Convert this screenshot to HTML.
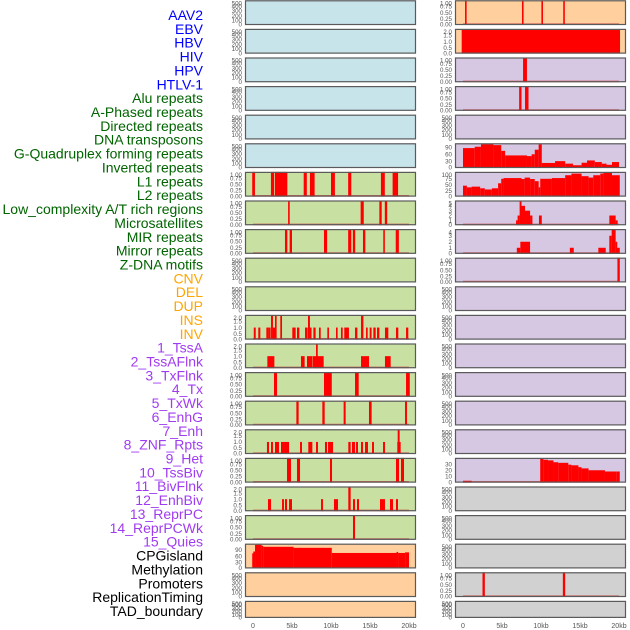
<!DOCTYPE html>
<html><head><meta charset="utf-8">
<style>
html,body{margin:0;padding:0;background:#fff;}
svg{display:block;font-family:"Liberation Sans",sans-serif;}
</style></head>
<body>
<svg id="chart" width="630" height="630" viewBox="0 0 630 630"></svg>
<script>
// ---- labels ----
const trackLabels = ["AAV2","EBV","HBV","HIV","HPV","HTLV-1","Alu repeats","A-Phased repeats","Directed repeats","DNA transposons","G-Quadruplex forming repeats","Inverted repeats","L1 repeats","L2 repeats","Low_complexity A/T rich regions","Microsatellites","MIR repeats","Mirror repeats","Z-DNA motifs","CNV","DEL","DUP","INS","INV","1_TssA","2_TssAFlnk","3_TxFlnk","4_Tx","5_TxWk","6_EnhG","7_Enh","8_ZNF_Rpts","9_Het","10_TssBiv","11_BivFlnk","12_EnhBiv","13_ReprPC","14_ReprPCWk","15_Quies","CPGisland","Methylation","Promoters","ReplicationTiming","TAD_boundary"];
const labelGroups = [6,13,5,15,5];
const xTickValues = [0,5,10,15,20];
const xTickLabels = ["0","5kb","10kb","15kb","20kb"];
const emptyTicks = [0,100,200,300,400,500];
const unitTicks = [0,0.25,0.5,0.75,1.0];
const unitTickLabels = ["0.00","0.25","0.50","0.75","1.00"];
const twoTicks = [0,0.5,1.0,1.5,2.0];
const twoTickLabels = ["0.0","0.5","1.0","1.5","2.0"];

// ---- column 1 data [startKb, endKb, value] ----
const l1Col1 = [[-0.1,0.25,1],[2.3,2.7,1],[2.8,4.4,1],[6.5,6.9,1],[7.3,7.9,1],[10.0,10.5,1],[12.2,12.6,1],[16.4,16.9,1],[17.9,18.6,1]];
const l2Col1 = [[4.5,4.7,1],[13.8,14.2,1],[16.2,16.5,1],[16.9,17.2,1]];
const lowCol1 = [[4.1,4.4,1],[4.7,5.0,1],[9.1,9.5,1],[12.2,12.6,1],[12.8,13.1,1],[14.1,14.4,1],[16.7,16.9,1],[18.3,18.7,1]];
const insCol1 = [[0.1,0.35,1],[0.68,0.94,1],[1.71,1.97,1],[1.97,2.26,1],[2.31,2.56,2],[2.56,2.82,1],[2.82,3.03,2],[3.5,3.72,2],[5.04,5.47,1],[5.64,5.94,1],[6.67,7.0,1],[7.05,7.3,2],[7.3,7.44,1],[7.74,8.03,1],[8.46,8.68,1],[9.53,9.74,1],[10.64,10.85,1],[11.28,11.5,1],[11.7,12.3,1],[13.08,13.38,1],[13.85,14.15,2],[14.49,14.7,1],[14.96,15.2,1],[15.43,15.73,1],[15.9,16.2,1],[16.92,17.35,1],[18.33,18.63,1],[19.62,19.91,1]];
const invCol1 = [[1.84,2.74,1],[6.15,6.62,1],[6.92,7.6,1],[7.65,9.06,1],[8.08,8.3,2],[13.85,14.87,1],[16.92,17.65,1]];
const tssACol1 = [[2.69,3.08,1],[9.1,10.1,1],[13.08,13.55,1],[19.62,20.1,1]];
const tssAFlnkCol1 = [[5.56,5.85,1],[8.89,9.19,1],[11.62,11.88,1],[14.87,15.21,1],[19.49,19.74,1]];
const txFlnkCol1 = [[1.79,2.05,1],[2.31,2.56,1],[2.82,3.33,1],[3.59,4.1,1],[4.1,4.62,1],[6.03,6.28,1],[7.09,7.61,1],[8.08,8.33,1],[9.23,9.49,1],[9.62,10.26,1],[12.22,12.52,1],[12.69,13.08,1],[13.21,13.46,1],[13.85,14.1,1],[14.36,14.74,1],[15.26,15.51,1],[16.67,16.92,1],[18.5,18.93,1],[18.55,18.8,2]];
const txCol1 = [[4.36,4.87,1],[5.64,6.03,1],[9.87,10.13,1],[18.33,18.72,1],[18.97,19.36,1]];
const txWkCol1 = [[1.92,2.31,1],[3.72,3.97,1],[4.1,4.36,1],[4.62,5.0,1],[8.72,8.97,1],[10.38,10.9,1],[12.22,12.52,2],[12.82,13.08,1],[13.33,13.59,1],[16.28,16.92,1],[17.56,17.95,1],[18.33,18.59,1]];
const enhGCol1 = [[12.82,13.08,1]];
const cpgCol1 = [[-0.1,0.04,73],[0.04,0.26,82],[0.26,1.1,115],[1.1,1.3,110],[1.3,5.2,105],[5.2,10.1,100],[10.1,18.4,75],[18.4,18.6,80],[18.6,19.5,75],[19.5,20.0,78]];

// ---- column 2 data ----
const aavCol2 = [[0.26,0.4,1],[7.56,7.7,1],[10.05,10.2,1],[12.85,13.04,1]];
const ebvCol2 = [[-0.17,20.13,2]];
const hbvCol2 = [[7.7,8.2,1]];
const hivCol2 = [[7.2,7.5,1],[7.95,8.4,1]];
const gquadCol2 = [[0,1.5,87],[1.5,2.3,93],[2.3,3.9,104],[3.9,4.9,100],[4.9,5.4,75],[5.4,8.2,55],[8.2,8.8,52],[8.8,9.2,60],[9.2,9.7,80],[9.7,10.1,103],[10.1,11.8,22],[11.8,13.1,30],[13.1,14.1,19],[14.1,15.2,12],[15.2,15.9,23],[15.9,16.9,33],[16.9,17.8,26],[17.8,18.4,19],[18.4,19.1,14],[19.1,20,26]];
const invertedCol2 = [[0,0.5,46],[0.5,1.1,39],[1.1,2.2,42],[2.2,2.8,35],[2.8,3.7,30],[3.7,4.5,35],[4.5,4.9,56],[4.9,5.2,75],[5.2,7.5,78],[7.5,7.9,74],[7.9,8.6,80],[8.6,9.2,74],[9.2,9.7,65],[9.7,9.9,39],[9.9,11.4,75],[11.4,13.1,78],[13.1,13.9,90],[13.9,15.2,97],[15.2,16.1,86],[16.1,16.7,80],[16.7,17.6,90],[17.6,18.0,97],[18.0,19.1,101],[19.1,20.1,90]];
const lowcxCol2 = [[6.8,7.0,1],[7.0,7.26,2],[7.26,7.5,5],[7.5,7.95,4],[7.95,8.6,3],[8.6,8.9,2],[9.74,10.1,2],[18.76,19.57,2],[19.57,19.83,1]];
const microCol2 = [[6.9,7.35,1],[7.35,8.6,2],[13.7,14.2,1],[17.35,18.3,1],[18.76,19.06,3],[19.06,19.57,4],[19.57,19.74,2],[19.74,20.1,1]];
const mirCol2 = [[19.8,20.1,1]];
const tssBivCol2 = [[0,1.1,3],[9.9,10.3,39],[10.3,10.9,37],[10.9,11.6,36],[11.6,12.2,33],[12.2,13.5,32],[13.5,13.9,29],[13.9,14.8,28],[14.8,15.2,25],[15.2,16.1,23],[16.1,18.2,20],[18.2,19.7,18],[19.7,20.1,18]];
const repCol2 = [[2.5,2.8,1],[12.8,13.1,1]];

const BLUE="#c7e4eb", GREEN="#c8e0a2", PURPLE="#d6c7e3", PEACH="#ffd09d", GRAY="#d1d1d1";

// panel specs: [col,row,bg,data,ymax,ticks,tickLabels,baseline]
const U=[unitTicks,unitTickLabels], T=[twoTicks,twoTickLabels], E=[emptyTicks,emptyTicks.map(String)];
const panels=[];
function P(col,row,bg,data,ymax,tk,base){panels.push({col,row,bg,data,ymax,tk,base});}
// column 1
for(let r=0;r<6;r++)P(0,r,BLUE,null,525,E,false);
P(0,6,GREEN,l1Col1,1.0,U,true);
P(0,7,GREEN,l2Col1,1.0,U,true);
P(0,8,GREEN,lowCol1,1.0,U,true);
P(0,9,GREEN,null,525,E,false);
P(0,10,GREEN,null,525,E,false);
P(0,11,GREEN,insCol1,2.05,T,true);
P(0,12,GREEN,invCol1,2.05,T,true);
P(0,13,GREEN,tssACol1,1.0,U,true);
P(0,14,GREEN,tssAFlnkCol1,1.0,U,true);
P(0,15,GREEN,txFlnkCol1,2.05,T,true);
P(0,16,GREEN,txCol1,1.0,U,true);
P(0,17,GREEN,txWkCol1,2.05,T,true);
P(0,18,GREEN,enhGCol1,1.0,U,true);
P(0,19,PEACH,cpgCol1,120,[[0,30,60,90],["0","30","60","90"]],false);
P(0,20,PEACH,null,525,E,false);
P(0,21,PEACH,null,525,E,false);
// column 2
P(1,0,PEACH,aavCol2,1.0,U,true);
P(1,1,PEACH,ebvCol2,2.05,T,false);
P(1,2,PURPLE,hbvCol2,1.0,U,true);
P(1,3,PURPLE,hivCol2,1.0,U,true);
P(1,4,PURPLE,null,525,E,false);
P(1,5,PURPLE,gquadCol2,108,[[0,30,60,90],["0","30","60","90"]],false);
P(1,6,PURPLE,invertedCol2,104,[[0,25,50,75,100],["0","25","50","75","100"]],false);
P(1,7,PURPLE,lowcxCol2,5.1,[[0,1,2,3,4,5],["0","1","2","3","4","5"]],true);
P(1,8,PURPLE,microCol2,4.1,[[0,1,2,3,4],["0","1","2","3","4"]],true);
P(1,9,PURPLE,mirCol2,1.0,U,true);
for(let r=10;r<16;r++)P(1,r,PURPLE,null,525,E,false);
P(1,16,PURPLE,tssBivCol2,40,[[0,10,20,30],["0","10","20","30"]],true);
for(let r=17;r<22;r++)P(1,r,GRAY,(r===20?repCol2:null),r===20?1.0:525,r===20?U:E,r===20);

const svg=document.getElementById('chart');
const NS="http://www.w3.org/2000/svg";
function el(tag,attrs,parent){const e=document.createElementNS(NS,tag);for(const k in attrs)e.setAttribute(k,attrs[k]);(parent||svg).appendChild(e);return e;}

const colX=[245,455], panelW=171, rowPitch=28.6;
function xScale(col,kb){return colX[col]+8+kb*7.8;}
function rowTop(r){return 0.3+r*rowPitch;}
function rowH(r){return r===21?17:24.7;}

// labels
const labelColors=["#0000ff","#006400","#ffa500","#a03cf0","#000000"];
let li=0;
labelGroups.forEach((n,g)=>{for(let k=0;k<n;k++){
  const t=el('text',{x:203,y:20+li*13.86,'text-anchor':'end','font-size':'14',fill:labelColors[g]});
  
  
  t.textContent=trackLabels[li];li++;}});

panels.forEach(p=>{
  const g=el('g',{});
  
  
  const top=rowTop(p.row), h=rowH(p.row), x0=colX[p.col];
  el('rect',{x:x0,y:top,width:panelW,height:h,fill:p.bg},g);
  const y=v=>top+h-(v/p.ymax)*h;
  if(p.base){
    const bl=el('line',{x1:xScale(p.col,0),x2:xScale(p.col,20),y1:top+h-0.8,y2:top+h-0.8,stroke:"#d04848",'stroke-width':1.6,opacity:0.8},g);
    
    
  }
  if(p.data){p.data.forEach(d=>{
    const xa=xScale(p.col,d[0]), xb=xScale(p.col,d[1]);
    const yt=Math.max(top,y(d[2]));
    const r=el('rect',{x:xa,y:yt,width:Math.max(1.6,xb-xa),height:top+h-yt,fill:"#ff0000"},g);
    
    
  });}
  el('rect',{x:x0+0.5,y:top+0.5,width:panelW-1,height:h-1,fill:'none',stroke:'#5a5a5a','stroke-width':1.2},g);
  p.tk[0].forEach((v,i)=>{
    const ty=Math.min(top+h-0.5,Math.max(top+3,y(v)))+2.2;
    const t=el('text',{x:x0-3,y:ty,'text-anchor':'end','font-size':'6.2',fill:'#555'},g);
    
    
    t.textContent=p.tk[1][i];
  });
});

// x axes
[0,1].forEach(c=>{xTickValues.forEach((v,i)=>{
  const t=el('text',{x:xScale(c,v),y:628,'text-anchor':'middle','font-size':'7',fill:'#555'});
  
  
  t.textContent=xTickLabels[i];
});});
</script>
</body></html>
